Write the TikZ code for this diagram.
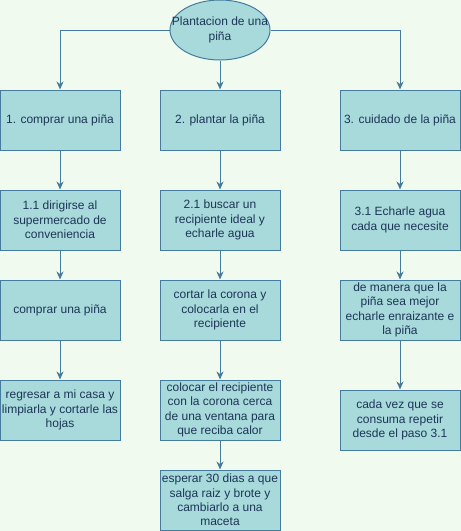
\documentclass[tikz,border=0pt]{standalone}
\usepackage{fontspec}
\setmainfont{Liberation Sans}
\usetikzlibrary{arrows.meta,shapes.geometric}
\definecolor{boxfill}{HTML}{A8DADC}
\definecolor{boxline}{HTML}{457B9D}
\definecolor{boxtext}{HTML}{1D3557}
\definecolor{paper}{HTML}{F1FAEE}

\begin{document}
\begin{tikzpicture}[x=1pt,y=-1pt,stepbox/.style={shape=rectangle,draw=boxline,line width=1pt,fill=boxfill,text=boxtext,minimum width=120pt,minimum height=60pt,inner sep=0pt,align=center,font=\fontsize{12}{14.4}\selectfont},goal/.style={shape=ellipse,draw=boxline,line width=1pt,fill=boxfill,minimum width=100pt,minimum height=60pt,inner sep=0pt},goaltext/.style={text=boxtext,align=center,inner sep=0pt,font=\fontsize{12}{14.4}\selectfont},link/.style={draw=boxline,line width=1pt,-{Stealth[length=8pt,width=7pt,inset=2.5pt]}}]
\def\xa{60};
\def\xb{220};
\def\xc{400};
\fill[paper] (0,0) rectangle (461,531);
\useasboundingbox (0,0) rectangle (461,531);
\node[goal] (title) at (\xb,30) {};
\node[goaltext] (titletext) at (title.center) {Plantacion de una\\piña};
\node[stepbox] (buy) at (\xa,120) {1. comprar una piña};
\node[stepbox] (plant) at (\xb,120) {2. plantar la piña};
\node[stepbox] (care) at (\xc,120) {3. cuidado de la piña};
\node[stepbox] (market) at (\xa,220) {1.1 dirigirse al\\supermercado de\\conveniencia};
\node[stepbox] (pick) at (\xa,310) {comprar una piña};
\node[stepbox] (clean) at (\xa,410) {regresar a mi casa y\\limpiarla y cortarle las\\hojas};
\node[stepbox] (pot) at (\xb,220) {2.1 buscar un\\recipiente ideal y\\echarle agua};
\node[stepbox] (crown) at (\xb,310) {cortar la corona y\\colocarla en el\\recipiente};
\node[stepbox] (window) at (\xb,410) {colocar el recipiente\\con la corona cerca\\de una ventana para\\que reciba calor};
\node[stepbox] (root) at (\xb,500) {esperar 30 dias a que\\salga raiz y brote y\\cambiarlo a una\\maceta};
\node[stepbox] (water) at (\xc,220) {3.1 Echarle agua\\cada que necesite};
\node[stepbox] (rooter) at (\xc,310) {de manera que la\\piña sea mejor\\echarle enraizante e\\la piña};
\node[stepbox] (repeat) at (\xc,420) {cada vez que se\\consuma repetir\\desde el paso 3.1};
\draw[link] (title.west) -| (buy.north);
\draw[link] (title.south) -- (plant.north);
\draw[link] (title.east) -| (care.north);
\draw[link] (buy) -- (market);
\draw[link] (market) -- (pick);
\draw[link] (pick) -- (clean);
\draw[link] (plant) -- (pot);
\draw[link] (pot) -- (crown);
\draw[link] (crown) -- (window);
\draw[link] (window) -- (root);
\draw[link] (care) -- (water);
\draw[link] (water) -- (rooter);
\draw[link] (rooter) -- (repeat);
\end{tikzpicture}
\end{document}
